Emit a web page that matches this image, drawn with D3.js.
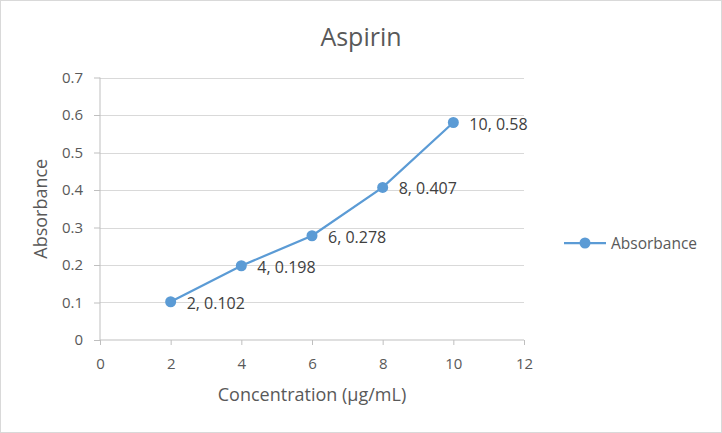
<!DOCTYPE html>
<html>
<head>
<meta charset="utf-8">
<script src="https://cdn.jsdelivr.net/npm/d3@7"></script>
<style>
  body { margin: 0; background: #fff; }
  svg text { font-family: "Open Sans", "Liberation Sans", sans-serif; fill: #595959; }
</style>
</head>
<body>
<div id="chart"></div>
<script>
// chart data
const concentration = [2, 4, 6, 8, 10];
const absorbance = [0.102, 0.198, 0.278, 0.407, 0.58];
const pointLabels = ['2, 0.102', '4, 0.198', '6, 0.278', '8, 0.407', '10, 0.58'];
const xTicks = [0, 2, 4, 6, 8, 10, 12];
const yTicks = [0, 0.1, 0.2, 0.3, 0.4, 0.5, 0.6, 0.7];

const width = 722, height = 433;
const margin = {t: 77.5, r: 198, b: 93, l: 100};
const blue = '#5b9bd5';

const svg = d3.select('#chart').append('svg')
    .attr('width', width)
    .attr('height', height);

// outer border
svg.append('rect')
    .attr('x', 0.5).attr('y', 0.5)
    .attr('width', width - 1).attr('height', height - 1)
    .attr('fill', '#fff')
    .attr('stroke', '#d9d9d9');

const x = d3.scaleLinear().domain([0, 12]).range([margin.l, width - margin.r]);
const y = d3.scaleLinear().domain([0, 0.7]).range([height - margin.b, margin.t]);

// gridlines
svg.append('g')
    .selectAll('line')
    .data(yTicks.filter(d => d > 0))
    .join('line')
    .attr('x1', x(0)).attr('x2', x(12))
    .attr('y1', d => Math.round(y(d)) + 0.5)
    .attr('y2', d => Math.round(y(d)) + 0.5)
    .attr('stroke', '#d9d9d9');

// y axis
const yAxis = svg.append('g')
    .attr('transform', `translate(${x(0)},0)`)
    .call(d3.axisLeft(y).tickValues(yTicks).tickSize(6).tickPadding(11)
        .tickFormat(d => d === 0 ? '0' : d3.format('.1f')(d)));
yAxis.selectAll('path, line').attr('stroke', '#bfbfbf');
yAxis.select('.domain').attr('d', `M0,${y(0)}V${y(0.7)}`);
yAxis.selectAll('text').style('font-size', '15px');

// x axis
const xAxis = svg.append('g')
    .attr('transform', `translate(0,${y(0)})`)
    .call(d3.axisBottom(x).tickValues(xTicks).tickSize(5).tickPadding(13));
xAxis.selectAll('path, line').attr('stroke', '#bfbfbf');
xAxis.select('.domain').attr('d', `M${x(0)},0H${x(12)}`);
xAxis.selectAll('text').style('font-size', '15px');

// title
svg.append('text')
    .attr('x', 361).attr('y', 46)
    .attr('text-anchor', 'middle')
    .style('font-size', '25px')
    .text('Aspirin');

// axis titles
svg.append('text')
    .attr('x', (x(0) + x(12)) / 2).attr('y', 401)
    .attr('text-anchor', 'middle')
    .style('font-size', '18px')
    .text('Concentration (µg/mL)');

svg.append('text')
    .attr('transform', `translate(47,${(y(0) + y(0.7)) / 2}) rotate(-90)`)
    .attr('text-anchor', 'middle')
    .style('font-size', '18px')
    .text('Absorbance');

// series line
const line = d3.line()
    .x((d, i) => x(concentration[i]))
    .y(d => y(d));

svg.append('path')
    .datum(absorbance)
    .attr('d', line)
    .attr('fill', 'none')
    .attr('stroke', blue)
    .attr('stroke-width', 2.25);

svg.append('g')
    .selectAll('circle')
    .data(absorbance)
    .join('circle')
    .attr('cx', (d, i) => x(concentration[i]))
    .attr('cy', d => y(d))
    .attr('r', 5.5)
    .attr('fill', blue);

// data labels
svg.append('g')
    .selectAll('text')
    .data(absorbance)
    .join('text')
    .attr('x', (d, i) => x(concentration[i]) + 16)
    .attr('y', d => y(d) + 7)
    .style('font-size', '16px')
    .style('fill', '#404040')
    .text((d, i) => pointLabels[i]);

// legend
const legend = svg.append('g').attr('transform', 'translate(564,243)');
legend.append('line')
    .attr('x1', 0).attr('x2', 42)
    .attr('stroke', blue).attr('stroke-width', 2.25);
legend.append('circle')
    .attr('cx', 21).attr('r', 5.5).attr('fill', blue);
legend.append('text')
    .attr('x', 47).attr('y', 6)
    .style('font-size', '15.5px')
    .text('Absorbance');
</script>
</body>
</html>
